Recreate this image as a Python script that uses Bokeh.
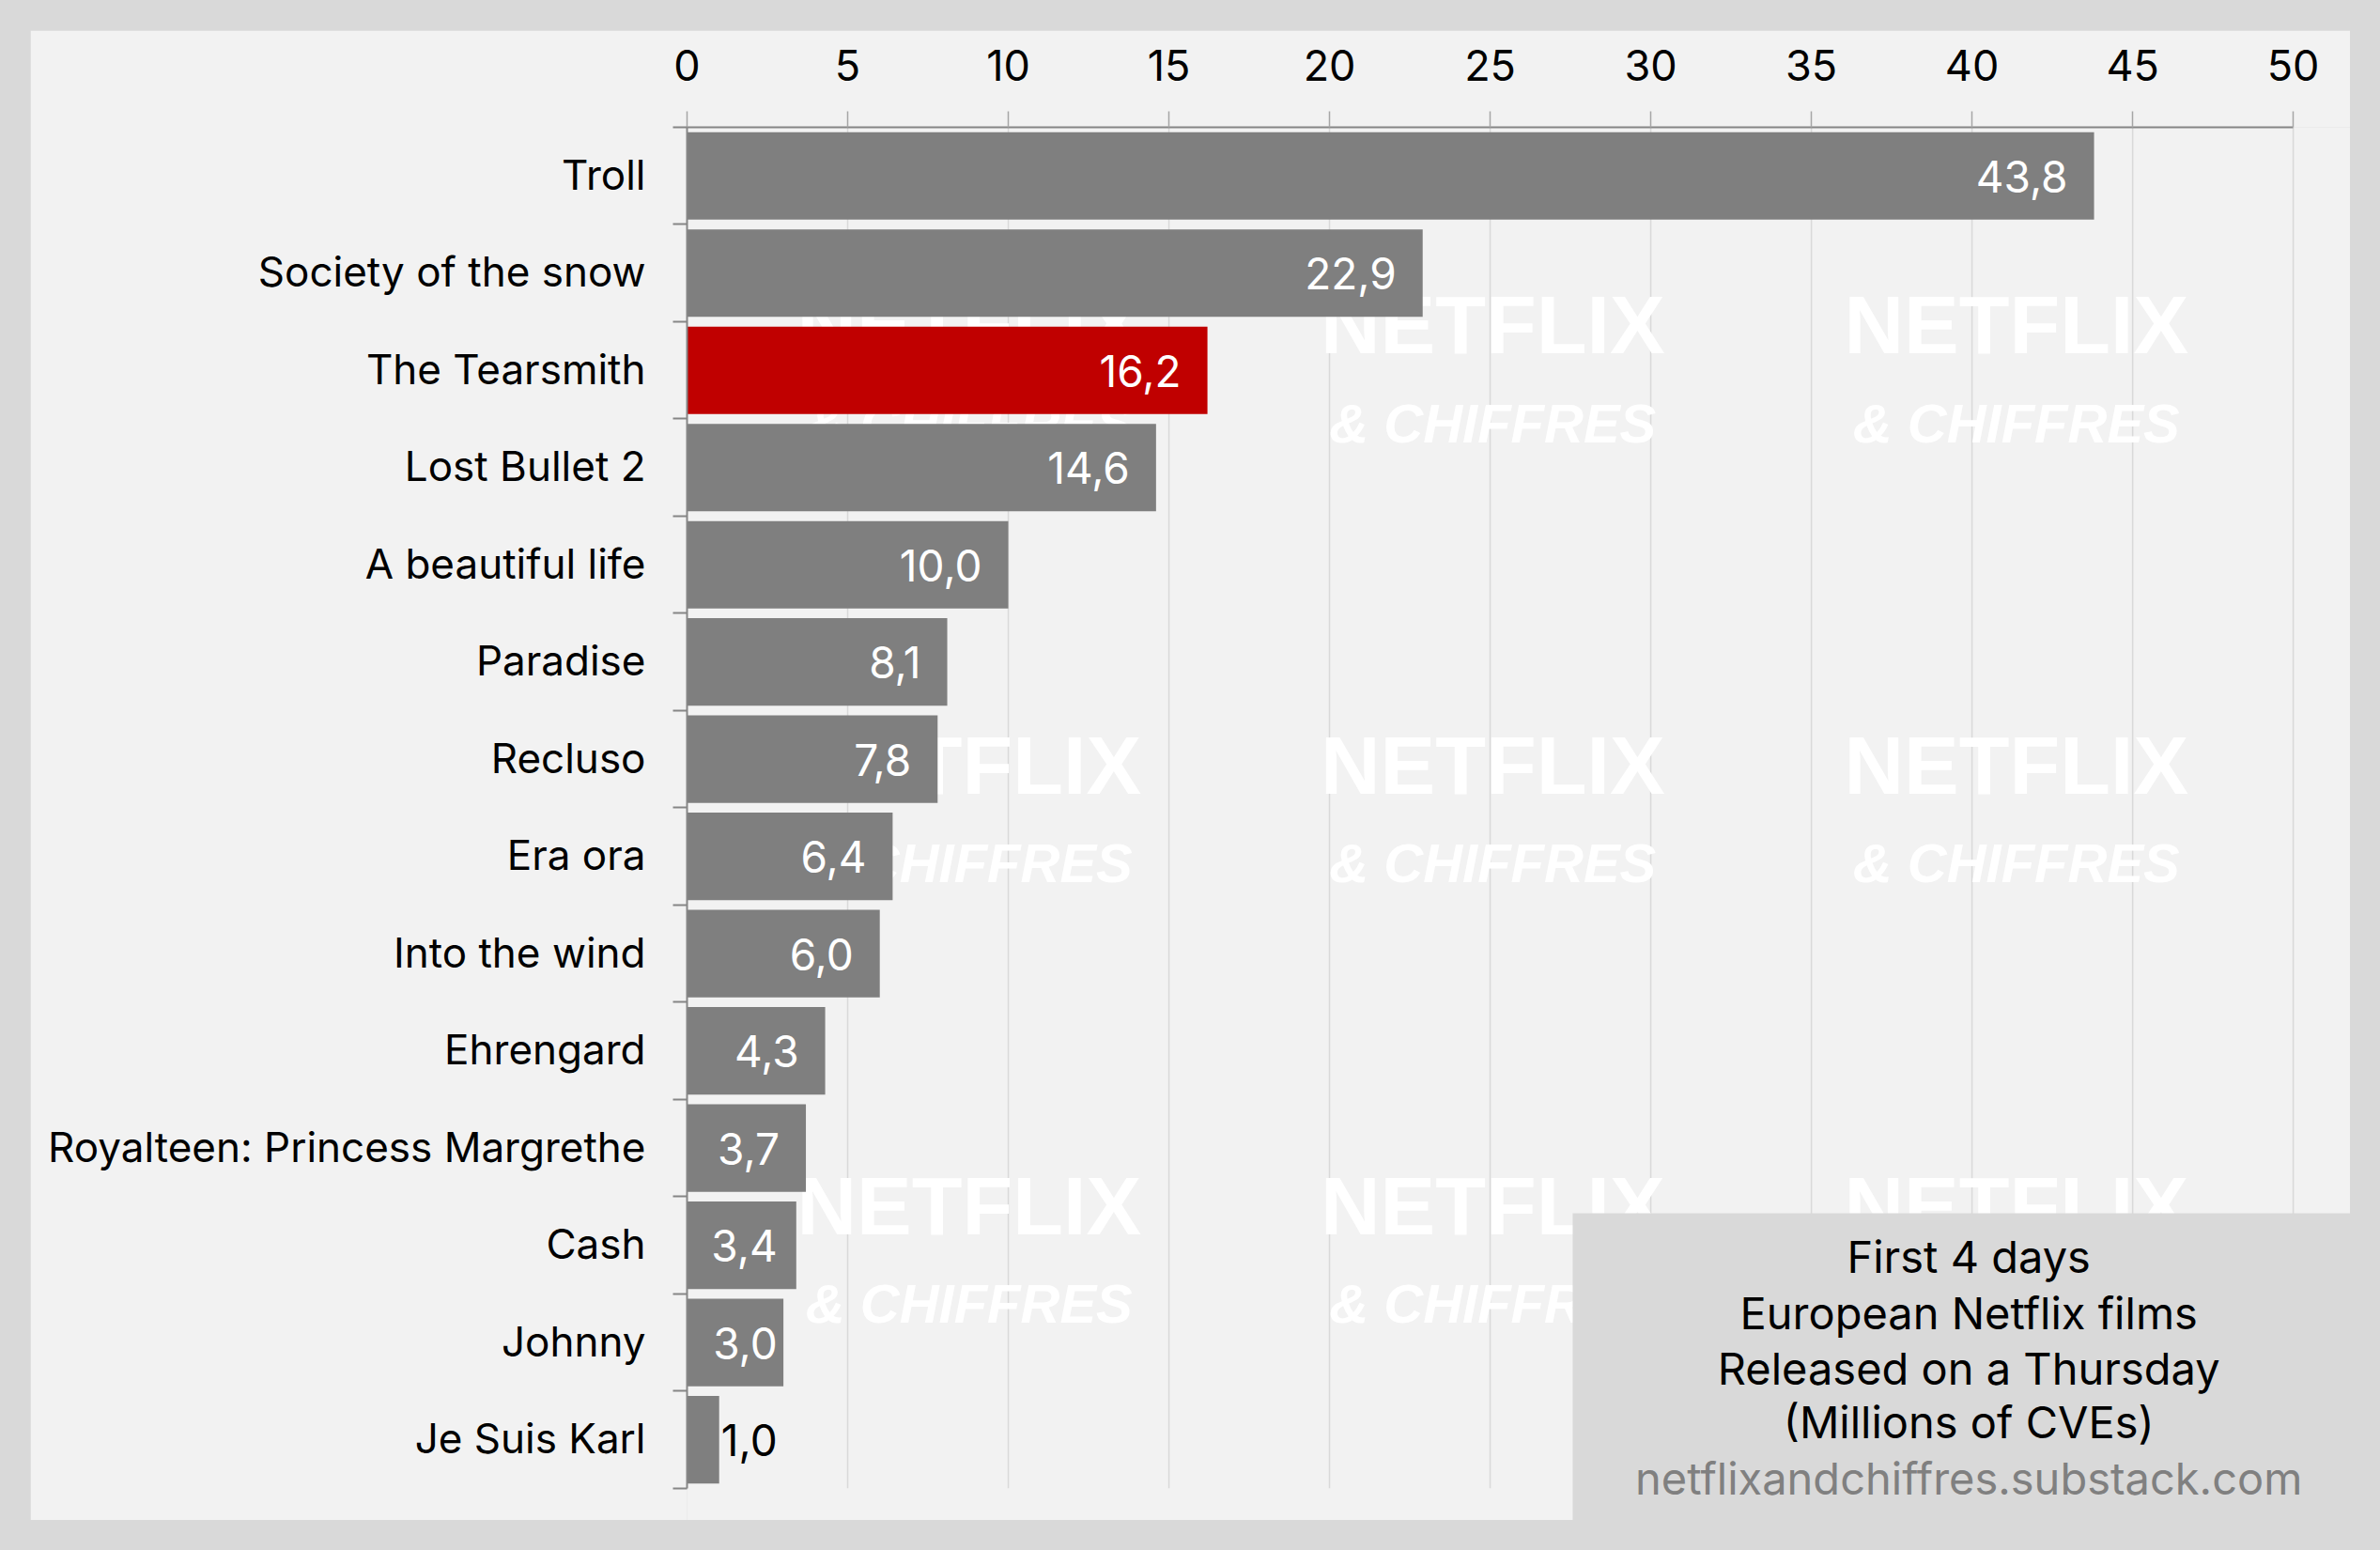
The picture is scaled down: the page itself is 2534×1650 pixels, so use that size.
from bokeh.plotting import figure
from bokeh.core.properties import value
from bokeh.models import ColumnDataSource, FixedTicker, BoxAnnotation, Label, Range1d
from bokeh.embed import file_html
from bokeh.resources import INLINE
import numpy as np

films = ["Troll", "Society of the snow", "The Tearsmith", "Lost Bullet 2", "A beautiful life",
         "Paradise", "Recluso", "Era ora", "Into the wind", "Ehrengard",
         "Royalteen: Princess Margrethe", "Cash", "Johnny", "Je Suis Karl"]
cves = [43.8, 22.9, 16.2, 14.6, 10.0, 8.1, 7.8, 6.4, 6.0, 4.3, 3.7, 3.4, 3.0, 1.0]
highlight = "The Tearsmith"
x_ticks = [0, 5, 10, 15, 20, 25, 30, 35, 40, 45, 50]
note_lines = ["First 4 days", "European Netflix films", "Released on a Thursday", "(Millions of CVEs)"]
note_url = "netflixandchiffres.substack.com"

FONT = "Inter"
FS = "44px"
n = len(films)
centers = [i + 0.5 for i in range(n)]
label_ticks = [round(c - 0.012, 3) for c in centers]
bounds = list(range(n + 1))
label_pos = np.maximum(cves, 3.63)
X_END = 51.78   # the frame runs on past the axis, to the edge of the panel
Y_END = 14.33

src = ColumnDataSource(dict(
    y=centers, v=cves, pos=label_pos,
    color=["#c00000" if f == highlight else "#7f7f7f" for f in films],
    txt=[f"{v:.1f}".replace(".", ",") for v in cves],
    tc=["#000000" if v < 2 else "#ffffff" for v in cves],
))

p = figure(width=2470, height=1586, frame_width=1771, frame_height=1483,
           x_range=Range1d(0, X_END), y_range=Range1d(Y_END, 0),
           x_axis_location="above", y_axis_location="left",
           output_backend="svg", toolbar_location=None,
           min_border_left=699, min_border_right=0, min_border_top=103, min_border_bottom=0,
           background_fill_color="#f2f2f2", border_fill_color="#f2f2f2",
           margin=(32, 32, 32, 32), outline_line_color=None)

xa = p.xaxis[0]
xa.bounds = (0, 50)
xa.ticker = FixedTicker(ticks=x_ticks)
xa.major_tick_out = 17
xa.major_tick_in = 0
xa.major_tick_line_color = "#a6a6a6"
xa.major_tick_line_width = 1.5
xa.minor_tick_line_color = None
xa.axis_line_color = "#868686"
xa.axis_line_width = 2
xa.major_label_standoff = 33
xa.major_label_text_font = FONT
xa.major_label_text_font_size = "45px"
xa.major_label_text_color = "#000000"

ya = p.yaxis[0]
ya.bounds = (0, n)
ya.ticker = FixedTicker(ticks=label_ticks, minor_ticks=bounds)
ya.major_label_overrides = {c: f for c, f in zip(label_ticks, films)}
ya.major_tick_line_color = None
ya.major_tick_out = 0
ya.major_tick_in = 0
ya.minor_tick_out = 15
ya.minor_tick_in = 0
ya.minor_tick_line_color = "#868686"
ya.minor_tick_line_width = 2
ya.axis_line_color = "#868686"
ya.axis_line_width = 2
ya.major_label_standoff = 29
ya.major_label_text_font = FONT
ya.major_label_text_font_size = FS
ya.major_label_text_color = "#000000"

p.xgrid.visible = False
p.ygrid.visible = False
p.segment(x0=x_ticks[1:], x1=x_ticks[1:], y0=0, y1=n, line_color="#d9d9d9", line_width=1.5, level="underlay")

# watermark
wm_x = [8.78, 25.08, 41.38]
wm_y1 = [2.03, 6.56, 11.09]
wm_y2 = [3.04, 7.57, 12.10]
for wx in wm_x:
    for y1, y2 in zip(wm_y1, wm_y2):
        p.text(x=[wx], y=[y1], text=["NETFLIX"], text_font=value("Liberation Sans"), text_font_style="bold",
               text_font_size="88px", text_color="#ffffff", text_align="center", text_baseline="middle", level="underlay")
        p.text(x=[wx], y=[y2], text=["& CHIFFRES"], text_font=value("Liberation Sans"), text_font_style="bold italic",
               text_font_size="58px", text_color="#ffffff", text_align="center", text_baseline="middle", level="underlay")

p.hbar(y="y", left=0, right="v", height=0.9, color="color", line_color=None, source=src)
p.text(x="pos", y="y", text="txt", text_color="tc", text_font=value(FONT), text_font_size="46px",
       text_align="right", text_baseline="middle", x_offset=-28, y_offset=0.5, source=src)

p.add_layout(BoxAnnotation(left=27.57, right=X_END, top=11.17, bottom=Y_END,
                           fill_color="#d9d9d9", fill_alpha=1, line_color=None))
note_y = [11.61, 12.19, 12.76, 13.32]
for t, y in zip(note_lines, note_y):
    p.add_layout(Label(x=39.9, y=y, text=t, text_font=FONT, text_font_size="47px", text_color="#000000",
                       text_align="center", text_baseline="middle"))
p.add_layout(Label(x=39.9, y=13.9, text=note_url, text_font=FONT, text_font_size="47px", text_color="#808080",
                   text_align="center", text_baseline="middle"))

html = file_html(p, INLINE)
html = html.replace("<head>", "<head><style>html,body{background:#d9d9d9;overflow:hidden}</style>", 1)
open("out.html", "w").write(html)
